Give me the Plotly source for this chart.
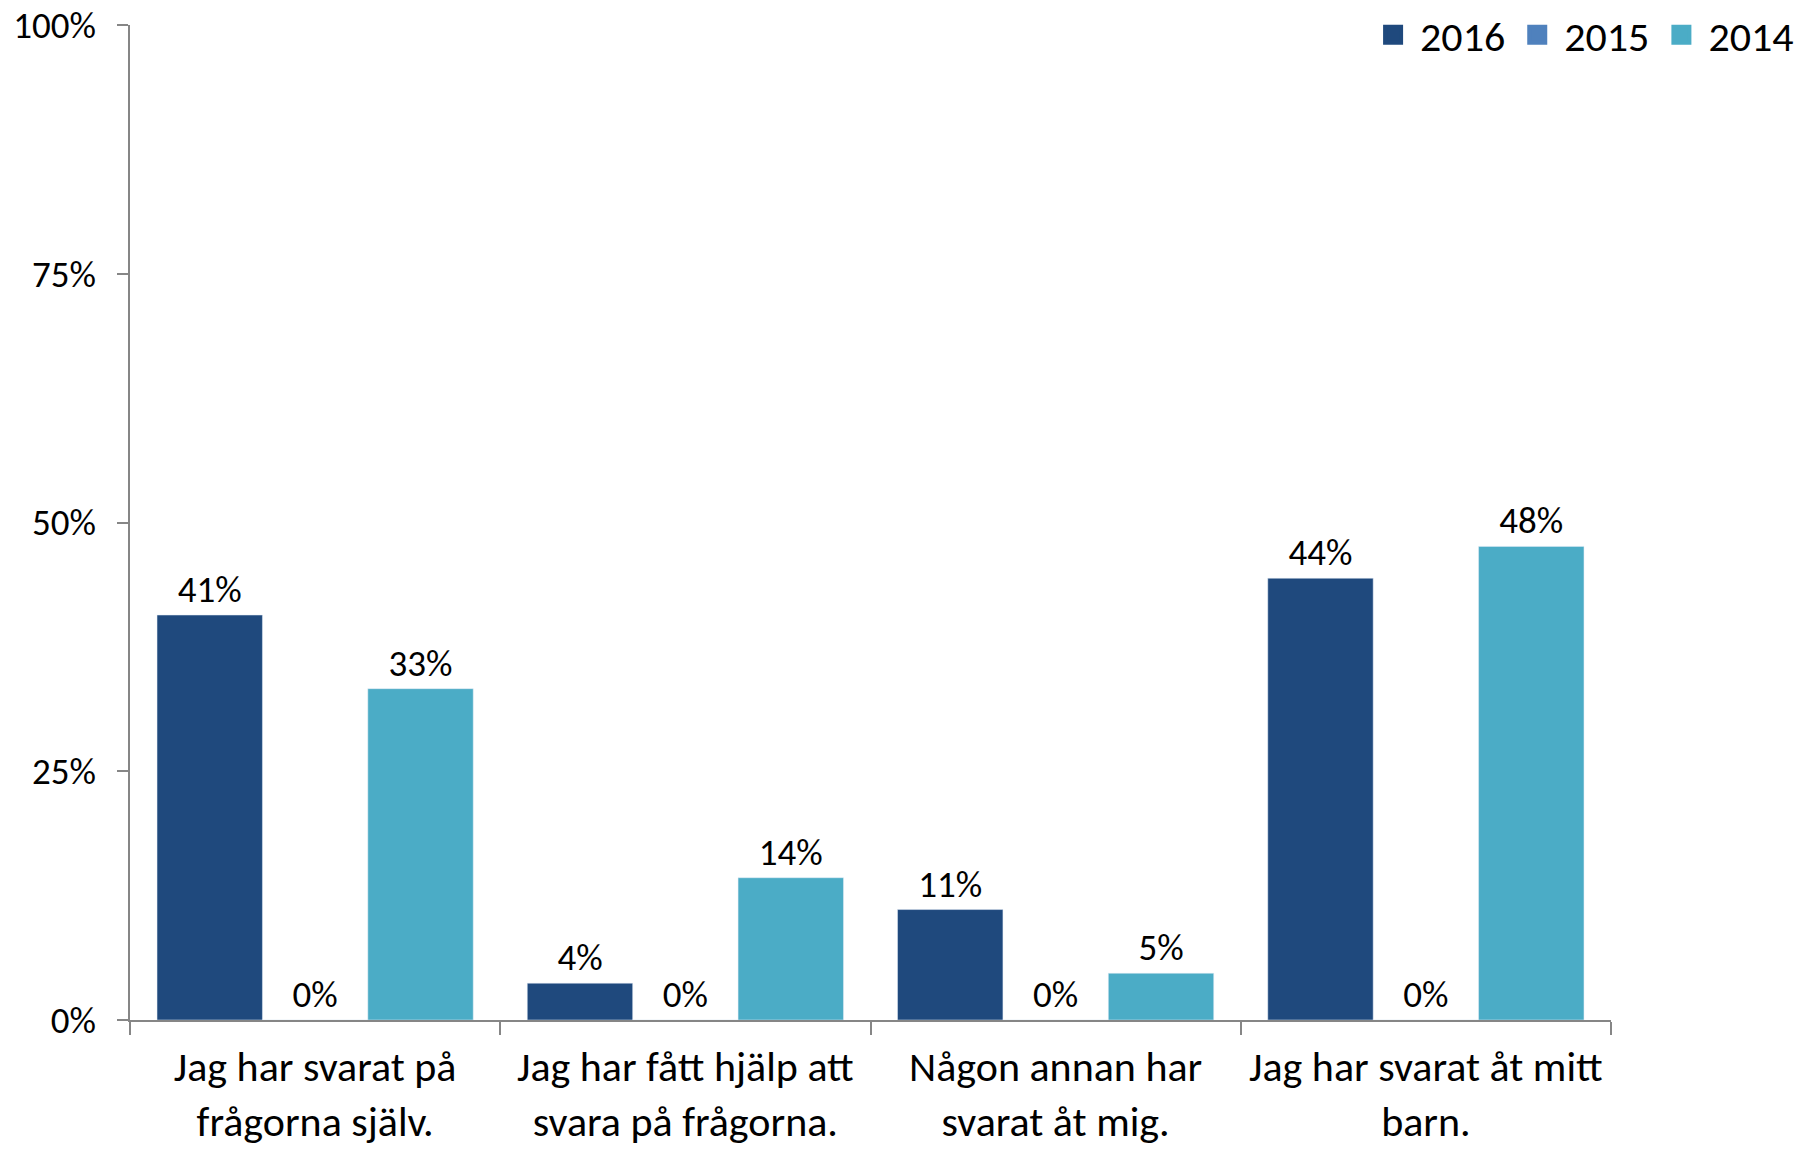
import plotly.graph_objects as go

categories = [
    "Jag har svarat på<br>frågorna själv.",
    "Jag har fått hjälp att<br>svara på frågorna.",
    "Någon annan har<br>svarat åt mig.",
    "Jag har svarat åt mitt<br>barn.",
]
series_names = ["2016", "2015", "2014"]
values_2016 = [0.407, 0.037, 0.111, 0.444]
values_2015 = [0.0, 0.0, 0.0, 0.0]
values_2014 = [0.333, 0.143, 0.047, 0.476]
colors = ["#1F497D", "#4F81BD", "#4BACC6"]
y_tickvals = [0, 0.25, 0.5, 0.75, 1.0]
y_ticktext = ["0%", "25%", "50%", "75%", "100%"]

FONT = "Carlito, Calibri, Lato, sans-serif"

fig = go.Figure()
for name, vals, col in zip(series_names, [values_2016, values_2015, values_2014], colors):
    fig.add_trace(go.Bar(
        name=name, x=categories, y=vals, marker_color=col,
        texttemplate="%{y:.0%}", textposition="outside",
        textfont=dict(family=FONT, size=37, color="#000000"),
        cliponaxis=False, showlegend=False, legendgroup=name,
    ))
# legend entries with larger square swatches
for name, col in zip(series_names, colors):
    fig.add_trace(go.Scatter(
        name=name, x=[None], y=[None], mode="markers", legendgroup=name,
        marker=dict(symbol="square", size=16, color=col, line=dict(color=col, width=4)),
        showlegend=True,
    ))

fig.update_layout(
    width=1799, height=1149,
    margin=dict(l=130, r=188, t=25, b=129, autoexpand=False),
    paper_bgcolor="white", plot_bgcolor="white",
    barmode="group", bargap=0.146, bargroupgap=0,
    font=dict(family=FONT, color="#000000"),
    legend=dict(
        orientation="h", x=1.127, xanchor="right", y=0.99, yanchor="middle",
        font=dict(family=FONT, size=42, color="#000000"),
        traceorder="normal", itemwidth=44,
    ),
    xaxis=dict(
        showline=True, linecolor="#868686", linewidth=1.5,
        ticks="outside", tickson="boundaries", ticklen=13, tickcolor="#868686", tickwidth=1.5,
        tickfont=dict(family=FONT, size=42, color="#000000"),
        ticklabelstandoff=9, tickangle=0, ticklabeloverflow="allow",
        showgrid=False,
    ),
    yaxis=dict(
        range=[0, 1], tickvals=y_tickvals, ticktext=y_ticktext,
        showline=True, linecolor="#868686", linewidth=1.5,
        ticks="outside", ticklen=11, tickcolor="#868686", tickwidth=1.5,
        tickfont=dict(family=FONT, size=37, color="#000000"),
        ticklabelstandoff=14, ticklabeloverflow="allow",
        showgrid=False, zeroline=False,
    ),
)

fig.write_html("out.html", config={"displayModeBar": False},
               post_script="document.body.style.margin='0';")
